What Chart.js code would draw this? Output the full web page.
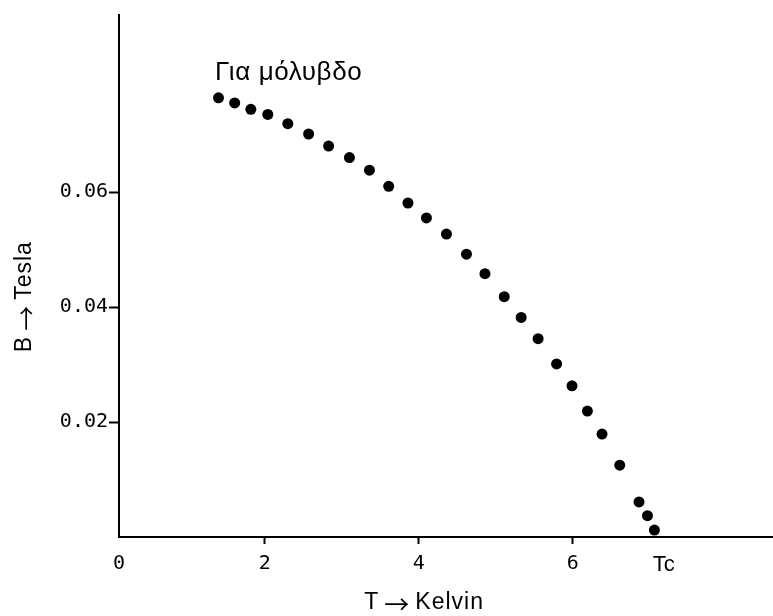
<!DOCTYPE html>
<html>
<head>
<meta charset="utf-8">
<title>Κρίσιμο μαγνητικό πεδίο</title>
<script src="https://cdn.jsdelivr.net/npm/chart.js@4/dist/chart.umd.min.js"></script>
<style>
  html, body { margin: 0; padding: 0; background: #fff; }
  canvas { display: block; }
</style>
</head>
<body>
<canvas id="chart" width="773" height="616"></canvas>
<script>
// measured critical field of lead vs temperature
const tempK = [1.40, 1.61, 1.82, 2.04, 2.30, 2.57, 2.83, 3.10, 3.36, 3.61, 3.86, 4.10, 4.36,
               4.62, 4.86, 5.11, 5.33, 5.55, 5.79, 5.99, 6.19, 6.38, 6.61, 6.86, 6.97, 7.06];
const fieldT = [0.0764, 0.0755, 0.0744, 0.0735, 0.0719, 0.0701, 0.0680, 0.0660, 0.0638, 0.0610, 0.0581, 0.0555, 0.0527,
                0.0492, 0.0458, 0.0418, 0.0382, 0.0345, 0.0301, 0.0263, 0.0219, 0.0179, 0.0125, 0.0061, 0.0037, 0.0012];

const xTickValues = [0.108, 2, 4, 6, 7.18];
const xTickLabels = ["0", "2", "4", "6", "Tc"];
const yTickValues = [0.02, 0.04, 0.06];
const yTickLabels = ["0.02", "0.04", "0.06"];

// axis titles: [quantity, arrow, unit]
const xTitle = ["T", "\u2192", "Kelvin"];
const yTitle = ["B", "\u2192", "Tesla"];
const seriesLabel = "Για μόλυβδο";

const monoFont = { family: "'DejaVu Sans Mono', monospace", size: 20 };
const sansFont = { family: "'Liberation Sans', Arial, sans-serif", size: 22 };
const titleFont = "23px 'Liberation Sans', Arial, sans-serif";
const arrowFont = "25px 'Noto Sans CJK JP', 'DejaVu Sans', sans-serif";

// draws "A → B" centred on (0,0) of the current transform
function drawArrowTitle(ctx, parts) {
    const gap = 5;
    ctx.letterSpacing = "1px";
    ctx.font = titleFont;
    const w0 = ctx.measureText(parts[0]).width;
    const w2 = ctx.measureText(parts[2]).width;
    ctx.font = arrowFont;
    const w1 = ctx.measureText(parts[1]).width;
    let x = -(w0 + w1 + w2 + 2 * gap) / 2;
    ctx.textAlign = "left";
    ctx.font = titleFont;
    ctx.fillText(parts[0], x, 0);
    x += w0 + gap;
    ctx.font = arrowFont;
    ctx.fillText(parts[1], x, 1);
    x += w1 + gap;
    ctx.font = titleFont;
    ctx.fillText(parts[2], x, 0);
    ctx.letterSpacing = "0px";
}

const axisText = {
    id: "axisText",
    afterDraw(chart) {
        const { ctx, scales: { x, y } } = chart;
        ctx.save();
        ctx.fillStyle = "#000";
        ctx.textBaseline = "middle";

        ctx.save();
        ctx.translate(x.getPixelForValue(4.07), x.bottom - 13);
        drawArrowTitle(ctx, xTitle);
        ctx.restore();

        ctx.save();
        ctx.translate(25, y.getPixelForValue(0.0418));
        ctx.rotate(-Math.PI / 2);
        drawArrowTitle(ctx, yTitle);
        ctx.restore();

        ctx.font = "26px 'Liberation Sans', Arial, sans-serif";
        ctx.letterSpacing = "0.6px";
        ctx.textAlign = "left";
        ctx.fillText(seriesLabel, x.getPixelForValue(1.355), y.getPixelForValue(0.0808));
        ctx.restore();
    }
};

const isMarkedTick = v => v === 2 || v === 4 || v === 6;

new Chart(document.getElementById("chart"), {
    type: "scatter",
    data: {
        datasets: [{
            label: seriesLabel,
            data: tempK.map((t, i) => ({ x: t, y: fieldT[i] })),
            pointRadius: 5.5,
            pointHoverRadius: 5.5,
            pointBackgroundColor: "#000",
            pointBorderWidth: 0,
            showLine: false
        }]
    },
    options: {
        responsive: false,
        animation: false,
        devicePixelRatio: 1,
        layout: { autoPadding: false, padding: { top: 15, right: 0, bottom: 0, left: 0 } },
        plugins: { legend: { display: false }, tooltip: { enabled: false } },
        scales: {
            x: {
                type: "linear",
                min: 0.108,
                max: 8.6,
                border: { color: "#000", width: 2 },
                grid: {
                    drawOnChartArea: false,
                    tickLength: 7,
                    tickWidth: 2,
                    tickColor: ctx => (ctx.tick && isMarkedTick(ctx.tick.value)) ? "#000" : "rgba(0,0,0,0)"
                },
                afterBuildTicks: scale => { scale.ticks = xTickValues.map(v => ({ value: v })); },
                afterFit: scale => { scale.height = 79; },
                ticks: {
                    autoSkip: false,
                    maxRotation: 0,
                    color: "#000",
                    padding: 8,
                    font: ctx => ctx.index === 4 ? sansFont : monoFont,
                    callback: (value, index) => xTickLabels[index]
                }
            },
            y: {
                type: "linear",
                min: 0,
                max: 0.0908,
                border: { color: "#000", width: 2 },
                grid: {
                    drawOnChartArea: false,
                    tickLength: 10,
                    tickWidth: 2,
                    tickColor: "#000"
                },
                afterBuildTicks: scale => { scale.ticks = yTickValues.map(v => ({ value: v })); },
                afterFit: scale => { scale.width = 119; },
                ticks: {
                    autoSkip: false,
                    color: "#000",
                    padding: 1,
                    font: monoFont,
                    callback: (value, index) => yTickLabels[index]
                }
            }
        }
    },
    plugins: [axisText]
});
</script>
</body>
</html>
